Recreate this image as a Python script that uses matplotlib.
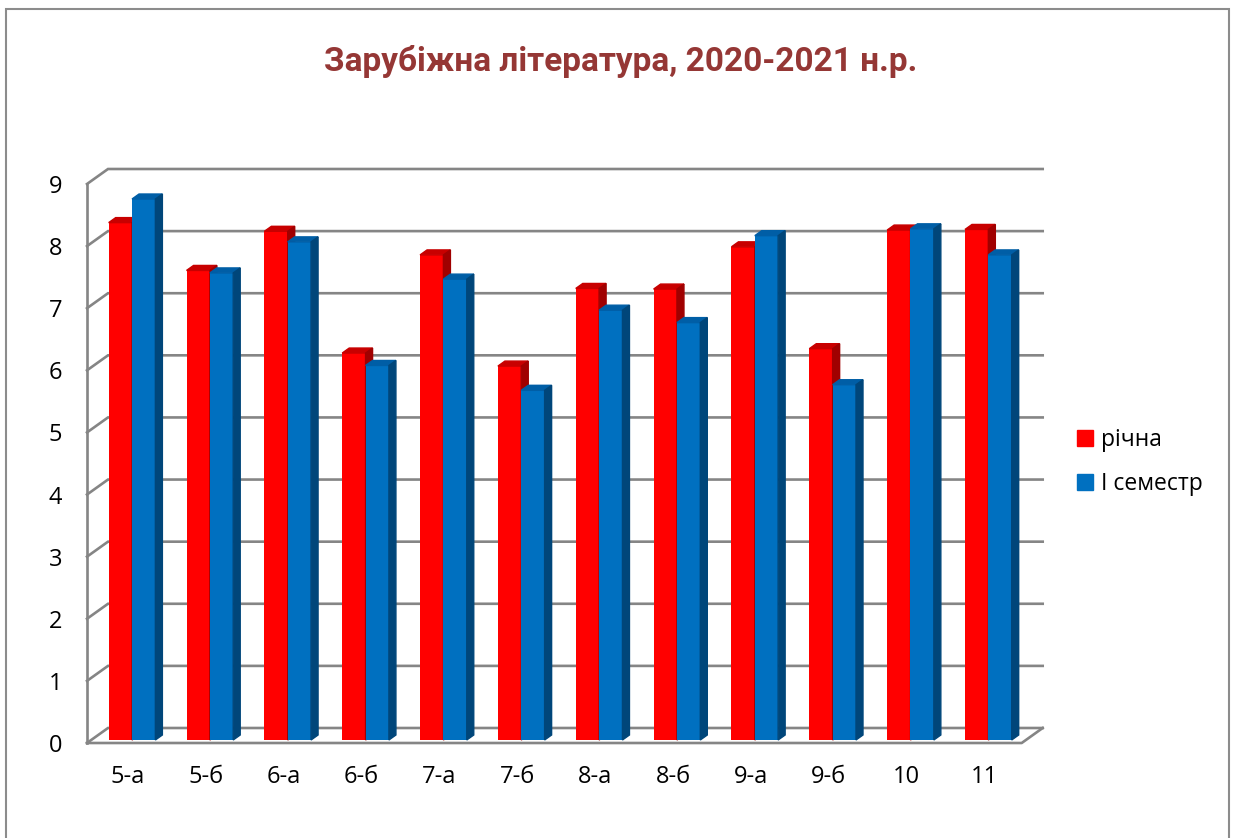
import numpy as np
import matplotlib
matplotlib.use('Agg')
import matplotlib.pyplot as plt
from matplotlib.patches import Polygon, Rectangle, Patch

plt.rcParams['font.family'] = ['Open Sans', 'DejaVu Sans']

## Data
classes = ['5-а', '5-б', '6-а', '6-б', '7-а', '7-б', '8-а', '8-б', '9-а', '9-б', '10', '11']
richna = [8.33, 7.56, 8.19, 6.23, 7.81, 6.02, 7.27, 7.26, 7.94, 6.30, 8.21, 8.22]
semestr1 = [8.71, 7.52, 8.02, 6.03, 7.42, 5.63, 6.92, 6.72, 8.12, 5.72, 8.23, 7.81]
series_names = ['річна', 'І семестр']
yticks = list(range(10))
title = 'Зарубіжна література, 2020-2021 н.р.'

## Geometry of the pseudo-3D box (pixels -> data units)
W, H = 1238, 838
xlim = (-0.527, 11.48)
ylim = (0, 9)
left, bottom, right, top = 87, 743, 1021.7, 184   # front plane in px (y down)
ux = (right - left) / (xlim[1] - xlim[0])
uy = (bottom - top) / (ylim[1] - ylim[0])
wall_dx, wall_dy = 21 / ux, 15 / uy
bar_ox, bar_oy = 4 / ux, 3 / uy
bar_dx, bar_dy = 7 / ux, 5 / uy
bw = 0.30
grey = '#858585'

fig = plt.figure(figsize=(W / 100, H / 100), dpi=100)
ax = fig.add_axes([left / W, (H - bottom) / H, (right - left) / W, (bottom - top) / H])
ax.set_xlim(xlim)
ax.set_ylim(ylim)
for s in ax.spines.values(): s.set_visible(False)
ax.patch.set_visible(False)

## Walls and floor
lw = 1.9
x0, x1 = xlim
ax.plot([x0, x0], [0, ylim[1]], color=grey, lw=lw, zorder=1, clip_on=False)
for y in yticks:
    ax.plot([x0, x0 + wall_dx, x1 + wall_dx], [y, y + wall_dy, y + wall_dy],
            color=grey, lw=lw, zorder=1, clip_on=False, solid_joinstyle='miter')
ax.plot([x0, x1, x1 + wall_dx], [0, 0, wall_dy], color=grey, lw=lw, zorder=1,
        clip_on=False)

## Bars (front, top, side faces)
series = [(richna, -bw / 2, ('#ff0000', '#c80000', '#a00000'), 2),
          (semestr1, bw / 2, ('#0070c0', '#005ea6', '#00467a'), 3)]
x = np.arange(len(classes))
for vals, off, (cf, ct, cs), z in series:
    xs = x + off + bar_ox
    ax.bar(xs, vals, width=bw, bottom=bar_oy, color=cf, zorder=z, clip_on=False)
    for xc, v in zip(xs, vals):
        a, b = xc - bw / 2, xc + bw / 2
        t = v + bar_oy
        ax.add_patch(Polygon([(a, t), (b, t), (b + bar_dx, t + bar_dy), (a + bar_dx, t + bar_dy)],
                             closed=True, color=ct, zorder=z, clip_on=False))
        ax.add_patch(Polygon([(b, bar_oy), (b + bar_dx, bar_oy + bar_dy), (b + bar_dx, t + bar_dy), (b, t)],
                             closed=True, color=cs, zorder=z, clip_on=False))

## Ticks
ax.set_xticks(x, classes)
ax.set_yticks(yticks)
ax.tick_params(axis='both', length=0, labelsize=17, colors='black')
ax.tick_params(axis='x', pad=16)
ax.tick_params(axis='y', pad=18)

## Title, legend, frame
fig.text(621 / W, 1 - 61 / H, title, ha='center', va='center', fontsize=24,
         fontweight='bold', color='#953735', family=['Roboto', 'DejaVu Sans'])
handles = [Patch(color='#ff0000'), Patch(color='#0070c0')]
fig.legend(handles, series_names, loc='center left', bbox_to_anchor=(1077 / W, 1 - 462 / H),
           frameon=False, fontsize=16.5, handlelength=0.7, handleheight=0.7,
           handletextpad=0.33, labelspacing=0.9, borderpad=0, borderaxespad=0)
fig.patches.append(Rectangle((5.5 / W, -0.05), (1229 - 5.5) / W, 1.05 - 9 / H,
                             transform=fig.transFigure, fill=False, ec='#8c8c8c', lw=1.5))

plt.savefig('out.png', dpi=100)
